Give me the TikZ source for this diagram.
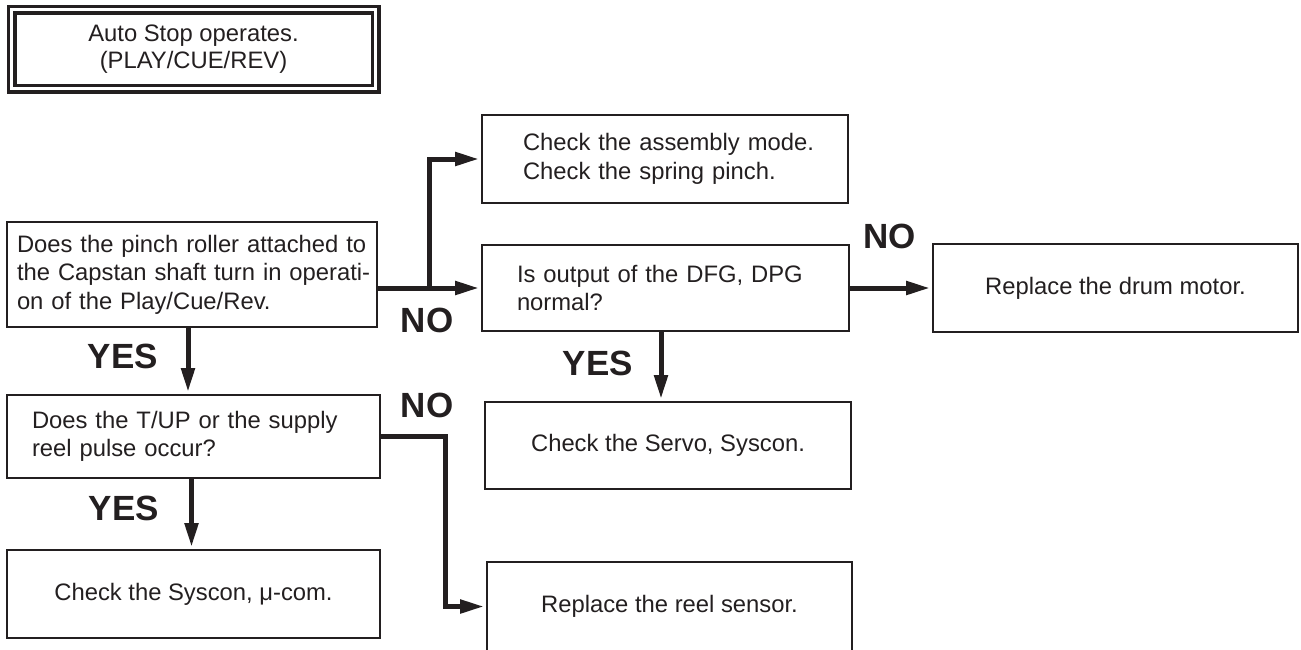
\documentclass[tikz,border=0pt]{standalone}
\usepackage{fontspec}
\setmainfont{Liberation Sans}
\usetikzlibrary{arrows.meta,calc}
\definecolor{ink}{RGB}{35,31,32}

\begin{document}
\begin{tikzpicture}[x=1pt, y=-1pt,
  box/.style={draw=ink, text=ink, line width=1.8pt, inner ysep=0pt, font=\fontsize{23.8}{28.5}\selectfont},
  flow/.style={draw=ink, line width=5pt, -{Triangle[length=24pt,width=13pt]}, shorten >=2pt},
  answer/.style={text=ink, font=\fontsize{35}{40}\selectfont\bfseries}]
  \useasboundingbox (0,0) rectangle (1301,649);
  \node[box, double, double distance=3pt, line width=3.5pt, align=center, font=\fontsize{23.8}{27}\selectfont, minimum width=364pt, minimum height=79pt] (start) at (193.5,49) {Auto Stop operates.\\(PLAY/CUE/REV)};
  \node[box, align=left, text width=350pt, inner xsep=10pt, minimum width=370pt, minimum height=105pt] (pinch) at (192,274.5) {\mbox{Does the pinch roller attached to}\\\mbox{the Capstan shaft turn in operati-}\\\mbox{on of the Play/Cue/Rev.}};
  \node[box, align=left, text width=284pt, inner xsep=41pt, minimum width=366pt, minimum height=88pt] (mode) at (665,159) {\mbox{Check the assembly mode.}\\\mbox{Check the spring pinch.}};
  \node[box, align=left, text width=297pt, inner xsep=35pt, minimum width=367pt, minimum height=86pt] (dfg) at (665.5,288) {\mbox{Is output of the DFG, DPG}\\normal?};
  \node[box, minimum width=365pt, minimum height=88pt] (drum) at (1115.5,288) {Replace the drum motor.};
  \node[box, align=left, text width=323pt, inner xsep=25pt, minimum width=373pt, minimum height=83pt] (pulse) at (193.5,436.5) {\mbox{Does the T/UP or the supply}\\\mbox{reel pulse occur?}};
  \node[box, minimum width=366pt, minimum height=87pt] (servo) at (668,445.5) {Check the Servo, Syscon.};
  \node[box, minimum width=365pt, minimum height=89pt] (sensor) at (669.5,606.5) {Replace the reel sensor.};
  \node[box, minimum width=373pt, minimum height=88pt] (syscon) at (193.5,594) {Check the Syscon, μ-com.};

  \coordinate (split) at ($(pinch.east |- dfg.west)!.5!(dfg.west)$);
  \draw[flow] (pinch.east |- dfg.west) -- (dfg.west);
  \draw[flow] (split) |- (mode.west);
  \draw[flow] (dfg.east) -- (drum.west);
  \draw[flow] ([xshift=-4pt]pinch.south) -- ([xshift=-4pt]pinch.south |- pulse.north);
  \draw[flow] ([xshift=-2pt]pulse.south) -- ([xshift=-2pt]pulse.south |- syscon.north);
  \draw[flow] ([xshift=-4.5pt]dfg.south) -- ([xshift=-4.5pt]dfg.south |- servo.north);
  \draw[flow] (pulse.east) -- ++(65,0) |- (sensor.west);

  \node[answer] (noDfg) at (427,320) {NO};
  \node[answer] (noDrum) at (889.5,236) {NO};
  \node[answer] (noSensor) at (427,405) {NO};
  \node[answer] (yesPulse) at (123,356) {YES};
  \node[answer] (yesSyscon) at (124,508) {YES};
  \node[answer] (yesServo) at (598,363) {YES};
\end{tikzpicture}
\end{document}
